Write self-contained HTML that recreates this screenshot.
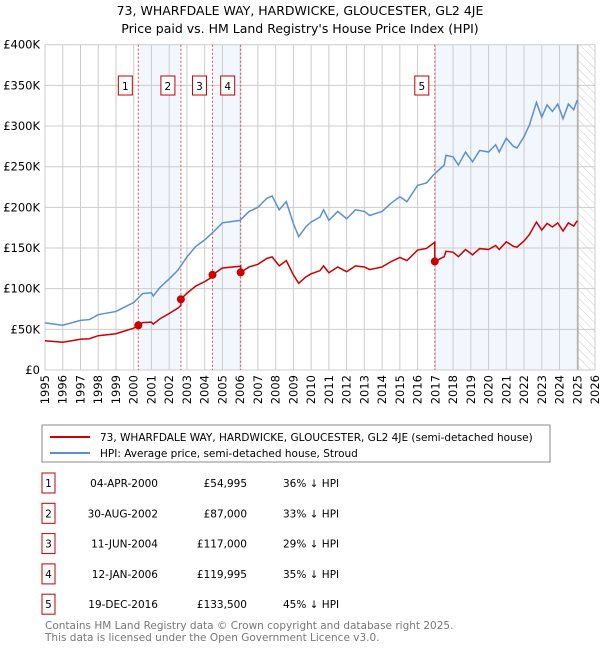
<!DOCTYPE html>
<html><head><meta charset="utf-8"><style>
body{margin:0;background:#fff;font-family:"Liberation Sans","DejaVu Sans",sans-serif;}
svg text{font-family:"DejaVu Sans","Liberation Sans",sans-serif;}
</style></head><body>
<svg id="chart" width="600" height="650" xmlns="http://www.w3.org/2000/svg">
<defs><pattern id="hatch" width="6" height="6" patternUnits="userSpaceOnUse" patternTransform="rotate(-45)"><line x1="0" y1="0" x2="0" y2="6" stroke="#ccc" stroke-width="1"/></pattern></defs>
<text x="300" y="15" text-anchor="middle" font-size="12.5">73, WHARFDALE WAY, HARDWICKE, GLOUCESTER, GL2 4JE</text>
<text x="300" y="33" text-anchor="middle" font-size="12.5">Price paid vs. HM Land Registry's House Price Index (HPI)</text>
<g id="plot"></g>
<rect x="42" y="425" width="508" height="37" fill="#fff" stroke="#888"/>
<line x1="50" y1="437" x2="90" y2="437" stroke="#cc0000" stroke-width="2"/>
<text x="100" y="441" font-size="10.5">73, WHARFDALE WAY, HARDWICKE, GLOUCESTER, GL2 4JE (semi-detached house)</text>
<line x1="50" y1="453" x2="90" y2="453" stroke="#5b8fd4" stroke-width="2"/>
<text x="100" y="457" font-size="10.5">HPI: Average price, semi-detached house, Stroud</text>
<g id="table" font-size="10.5"></g>
<text x="45" y="629" font-size="10.5" fill="#777">Contains HM Land Registry data © Crown copyright and database right 2025.</text>
<text x="45" y="641" font-size="10.5" fill="#777">This data is licensed under the Open Government Licence v3.0.</text>
</svg>
<script>
const hpiYears=[1995,1996,1997,1997.5,1998,1999,2000,2000.5,2001,2001.1,2001.5,2002,2002.5,2003,2003.5,2004,2004.5,2005,2006,2006.5,2007,2007.5,2007.8,2008.2,2008.6,2009,2009.3,2009.7,2010,2010.5,2010.7,2011,2011.5,2012,2012.5,2013,2013.3,2014,2014.5,2015,2015.4,2016,2016.5,2016.9,2017,2017.5,2017.6,2018,2018.3,2018.7,2019.1,2019.5,2020,2020.4,2020.6,2021,2021.4,2021.6,2022,2022.3,2022.7,2023,2023.3,2023.6,2023.9,2024.2,2024.5,2024.8,2025];
const hpiValues=[58,55,61,62,68,72,83,94,95,91,102,112,123,139,152,160,170,181,184,195,200,211,214,197,207,180,164,176,182,188,197,184,195,186,197,195,190,195,205,213,207,227,230,240,242,252,264,262,252,268,256,270,268,277,268,285,275,273,287,301,329,311,326,318,327,309,327,320,332];
const saleYears=[2000.26,2002.66,2004.44,2006.03,2016.97];
const salePrices=[54995,87000,117000,119995,133500];
const saleLabels=["1","2","3","4","5"];
const saleDates=["04-APR-2000","30-AUG-2002","11-JUN-2004","12-JAN-2006","19-DEC-2016"];
const salePriceText=["£54,995","£87,000","£117,000","£119,995","£133,500"];
const salePct=["36% ↓ HPI","33% ↓ HPI","29% ↓ HPI","35% ↓ HPI","45% ↓ HPI"];
const yTicks=[0,50,100,150,200,250,300,350,400];
const yTickLabels=["£0","£50K","£100K","£150K","£200K","£250K","£300K","£350K","£400K"];

const NS="http://www.w3.org/2000/svg";
const X0=45,X1=595,Y0=370,Y1=44.7;
const xs=y=>X0+(y-1995)/31*(X1-X0);
const ys=v=>Y0-v/400*(Y0-Y1);
function mk(tag,attrs,parent){const e=document.createElementNS(NS,tag);for(const k in attrs)e.setAttribute(k,attrs[k]);parent.appendChild(e);return e;}
function hpiAt(t){for(let i=0;i<hpiYears.length-1;i++){if(t<=hpiYears[i+1]){const f=(t-hpiYears[i])/(hpiYears[i+1]-hpiYears[i]);return hpiValues[i]+f*(hpiValues[i+1]-hpiValues[i]);}}return hpiValues[hpiValues.length-1];}
const g=document.getElementById('plot');
// shading
const spans=[[0,1],[2,3],[4,null]];
spans.forEach(s=>{const a=xs(saleYears[s[0]]),b=s[1]==null?xs(2025.04):xs(saleYears[s[1]]);
const r=mk('rect',{x:a,y:Y1,width:b-a,height:Y0-Y1,fill:'#eef3fc',opacity:0.75},g);

});
const h=mk('rect',{x:xs(2025.04),y:Y1,width:X1-xs(2025.04),height:Y0-Y1,fill:'url(#hatch)'},g);


// grid
for(let yr=1995;yr<=2026;yr++){const x=xs(yr);
const l=mk('line',{x1:x,x2:x,y1:Y1,y2:Y0,stroke:'#ccc','stroke-width':1},g);


const t=mk('text',{x:0,y:0,'font-size':11.5,'text-anchor':'end',transform:`translate(${x+4},${Y0+5}) rotate(-90)`},g);
t.textContent=yr;

}
yTicks.forEach((v,i)=>{const y=ys(v);
const l=mk('line',{x1:X0,x2:X1,y1:y,y2:y,stroke:'#ccc','stroke-width':1},g);


const t=mk('text',{x:40,y:y+4,'font-size':11.5,'text-anchor':'end'},g);
t.textContent=yTickLabels[i];

});
const end=mk('line',{x1:xs(2025.04),x2:xs(2025.04),y1:Y1,y2:Y0,stroke:'#999','stroke-width':1},g);


// sale lines and markers
saleYears.forEach((s,i)=>{const x=xs(s);
const l=mk('line',{x1:x,x2:x,y1:Y1,y2:Y0,stroke:'#e05050','stroke-width':1,'stroke-dasharray':'2,2'},g);


const r=mk('rect',{x:x-20,y:76,width:14,height:19,fill:'#fff',stroke:'#c00000'},g);


const t=mk('text',{x:x-13,y:90,'font-size':10.5,'text-anchor':'middle'},g);
t.textContent=saleLabels[i];

});
// HPI line
const hp=hpiYears.map((y,i)=>xs(y)+','+ys(hpiValues[i])).join(' ');
const hl=mk('polyline',{points:hp,fill:'none',stroke:'#5b8fd4','stroke-width':1.5},g);


// property line: HPI scaled to each sale
function factor(t){let k=0;for(let i=0;i<saleYears.length;i++)if(t>=saleYears[i])k=i;return salePrices[k]/1000/hpiAt(saleYears[k]);}
let pts=[];const ts=[...hpiYears];saleYears.forEach(s=>{ts.push(s-0.001);ts.push(s);});ts.sort((a,b)=>a-b);
ts.forEach(t=>{pts.push(xs(t)+','+ys(hpiAt(t)*factor(t)));});
const pl=mk('polyline',{points:pts.join(' '),fill:'none',stroke:'#cc0000','stroke-width':1.5},g);


saleYears.forEach((s,i)=>{const c=mk('circle',{cx:xs(s),cy:ys(salePrices[i]/1000),r:4,fill:'#cc0000'},g);

});
// table
const tb=document.getElementById('table');
saleLabels.forEach((lab,i)=>{const y=483+i*30.3;
const r=mk('rect',{x:42,y:y-10,width:13,height:20,fill:'#fff',stroke:'#c00000'},tb);


const cells=[[48.5,lab,'middle'],[158,saleDates[i],'end'],[247,salePriceText[i],'end'],[283,salePct[i],'start']];
const names=['table-index','table-date','table-price','table-hpi-diff'];
cells.forEach((c,j)=>{const t=mk('text',{x:c[0],y:y+4,'text-anchor':c[2]},tb);
t.textContent=c[1];

});});
</script>
</body></html>
